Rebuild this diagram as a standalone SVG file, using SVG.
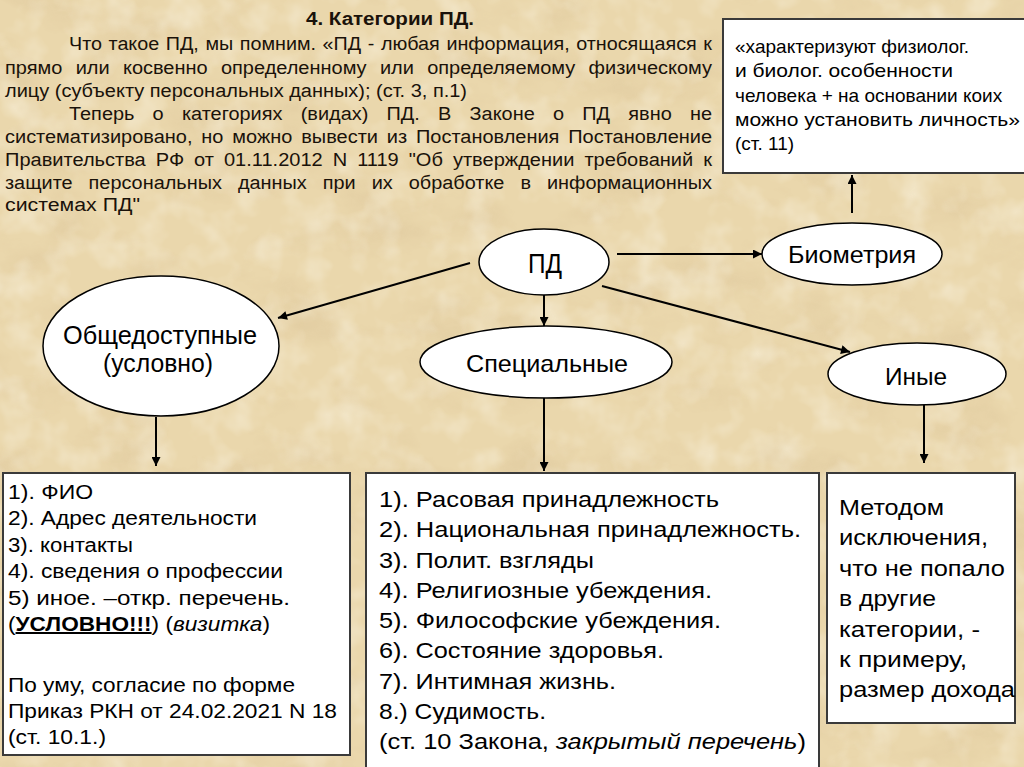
<svg xmlns="http://www.w3.org/2000/svg" width="1024" height="767" viewBox="0 0 1024 767">
<style>
.t{font-family:"Liberation Sans",Arial,sans-serif;fill:#000}
.p{font-family:"Liberation Sans",Arial,sans-serif;font-size:18px;fill:#1a120a}
.n{fill:#fff;stroke:#000;stroke-width:1.5}
.b{fill:#fff;stroke:#3a3a3a;stroke-width:2}
.c{stroke:#000;stroke-width:2;fill:none;marker-end:url(#ah)}
.lb{font-size:20px}
.mb{font-size:22px}
</style>
<defs>
<marker id="ah" viewBox="0 0 10 10" refX="10" refY="5" markerWidth="10" markerHeight="9" orient="auto" markerUnits="userSpaceOnUse">
<path d="M0,0 L10,5 L0,10 z" fill="#000"/>
</marker>
<filter id="paper" x="0" y="0" width="100%" height="100%">
<feTurbulence type="fractalNoise" baseFrequency="0.012 0.02" numOctaves="5" seed="7"/>
<feColorMatrix type="matrix" values="0 0 0 0 0.66  0 0 0 0 0.5  0 0 0 0 0.28  0 0 0 1.6 -0.78"/>
</filter>
<filter id="light" x="0" y="0" width="100%" height="100%">
<feTurbulence type="fractalNoise" baseFrequency="0.03" numOctaves="3" seed="21"/>
<feColorMatrix type="matrix" values="0 0 0 0 0.98  0 0 0 0 0.94  0 0 0 0 0.82  0 0 0 1.8 -0.8"/>
</filter>
</defs>
<rect x="0" y="0" width="1024" height="767" fill="#ead7ac"/>
<rect x="0" y="0" width="1024" height="767" filter="url(#paper)" opacity="0.5"/>
<rect x="0" y="0" width="1024" height="767" filter="url(#light)" opacity="0.55"/>

<g id="intro">
<text class="p" x="306" y="25" font-weight="bold" textLength="168" lengthAdjust="spacingAndGlyphs">4. Категории ПД.</text>
<text class="p" x="69" y="50" word-spacing="1" textLength="643" lengthAdjust="spacingAndGlyphs">Что такое ПД, мы помним. «ПД - любая информация, относящаяся к</text>
<text class="p" x="5" y="74" word-spacing="7" textLength="707" lengthAdjust="spacingAndGlyphs">прямо или косвенно определенному или определяемому физическому</text>
<text class="p" x="5" y="97" textLength="462" lengthAdjust="spacingAndGlyphs">лицу (субъекту персональных данных); (ст. 3, п.1)</text>
<text class="p" x="69" y="120" word-spacing="11.5" textLength="643" lengthAdjust="spacingAndGlyphs">Теперь о категориях (видах) ПД. В Законе о ПД явно не</text>
<text class="p" x="5" y="143" word-spacing="3" textLength="707" lengthAdjust="spacingAndGlyphs">систематизировано, но можно вывести из Постановления Постановление</text>
<text class="p" x="5" y="166" word-spacing="4" textLength="707" lengthAdjust="spacingAndGlyphs">Правительства РФ от 01.11.2012 N 1119 "Об утверждении требований к</text>
<text class="p" x="5" y="189" word-spacing="9.5" textLength="707" lengthAdjust="spacingAndGlyphs">защите персональных данных при их обработке в информационных</text>
<text class="p" x="5" y="211" textLength="135" lengthAdjust="spacingAndGlyphs">системах ПД"</text>
</g>

<g id="connectors">
<line class="c" x1="617" y1="254" x2="762" y2="254"/>
<line class="c" x1="470" y1="263" x2="278" y2="318"/>
<line class="c" x1="544" y1="295" x2="544" y2="326"/>
<line class="c" x1="602" y1="286" x2="850" y2="352"/>
<line class="c" x1="852" y1="213" x2="852" y2="175"/>
<line class="c" x1="156" y1="417" x2="156" y2="466"/>
<line class="c" x1="544" y1="398" x2="544" y2="471"/>
<line class="c" x1="924" y1="405" x2="924" y2="463"/>
</g>

<g id="biometry-note">
<rect class="b" x="723" y="19" width="320" height="154"/>
<text class="t" font-size="19" x="735" y="53" textLength="234" lengthAdjust="spacingAndGlyphs">«характеризуют физиолог.</text>
<text class="t" font-size="19" x="735" y="77" textLength="218" lengthAdjust="spacingAndGlyphs">и биолог. особенности</text>
<text class="t" font-size="19" x="735" y="102">человека + на основании коих</text>
<text class="t" font-size="19" x="735" y="126" textLength="285" lengthAdjust="spacingAndGlyphs">можно установить личность»</text>
<text class="t" font-size="19" x="735" y="150">(ст. 11)</text>
</g>

<g id="pd">
<ellipse class="n" cx="544" cy="262" rx="65" ry="33"/>
<text class="t" font-size="27" x="528" y="273" textLength="34" lengthAdjust="spacingAndGlyphs">ПД</text>
</g>

<g id="biometry">
<ellipse class="n" cx="852" cy="254" rx="90" ry="31"/>
<text class="t" font-size="23" x="788" y="263" textLength="128" lengthAdjust="spacingAndGlyphs">Биометрия</text>
</g>

<g id="public">
<ellipse class="n" cx="161" cy="346" rx="118" ry="70"/>
<text class="t" font-size="26" x="63" y="344" textLength="194" lengthAdjust="spacingAndGlyphs">Общедоступные</text>
<text class="t" font-size="26" x="103" y="372" textLength="110" lengthAdjust="spacingAndGlyphs">(условно)</text>
</g>

<g id="special">
<ellipse class="n" cx="546" cy="362" rx="126" ry="36"/>
<text class="t" font-size="24" x="466" y="372" textLength="162" lengthAdjust="spacingAndGlyphs">Специальные</text>
</g>

<g id="other">
<ellipse class="n" cx="917" cy="374" rx="89" ry="31"/>
<text class="t" font-size="24" x="885" y="385" textLength="62" lengthAdjust="spacingAndGlyphs">Иные</text>
</g>

<g id="public-list">
<rect class="b" x="3" y="473" width="347" height="282"/>
<text class="t lb" x="8" y="499" textLength="85" lengthAdjust="spacingAndGlyphs">1). ФИО</text>
<text class="t lb" x="8" y="525" textLength="249" lengthAdjust="spacingAndGlyphs">2). Адрес деятельности</text>
<text class="t lb" x="8" y="552" textLength="125" lengthAdjust="spacingAndGlyphs">3). контакты</text>
<text class="t lb" x="8" y="578" textLength="275" lengthAdjust="spacingAndGlyphs">4). сведения о профессии</text>
<text class="t lb" x="8" y="605" textLength="282" lengthAdjust="spacingAndGlyphs">5) иное. –откр. перечень.</text>
<text class="t lb" x="8" y="631" textLength="262" lengthAdjust="spacingAndGlyphs">(<tspan font-weight="bold" text-decoration="underline">УСЛОВНО!!!</tspan>) (<tspan font-style="italic">визитка</tspan>)</text>
<text class="t lb" x="8" y="692" textLength="287" lengthAdjust="spacingAndGlyphs">По уму, согласие по форме</text>
<text class="t lb" x="8" y="718" textLength="329" lengthAdjust="spacingAndGlyphs">Приказ РКН от 24.02.2021 N 18</text>
<text class="t lb" x="8" y="744" textLength="98" lengthAdjust="spacingAndGlyphs">(ст. 10.1.)</text>
</g>

<g id="special-list">
<rect class="b" x="366" y="473" width="453" height="310"/>
<text class="t mb" x="379" y="507" textLength="340" lengthAdjust="spacingAndGlyphs">1). Расовая принадлежность</text>
<text class="t mb" x="379" y="537" textLength="422" lengthAdjust="spacingAndGlyphs">2). Национальная принадлежность.</text>
<text class="t mb" x="379" y="568" textLength="215" lengthAdjust="spacingAndGlyphs">3). Полит. взгляды</text>
<text class="t mb" x="379" y="598" textLength="333" lengthAdjust="spacingAndGlyphs">4). Религиозные убеждения.</text>
<text class="t mb" x="379" y="628" textLength="342" lengthAdjust="spacingAndGlyphs">5). Философские убеждения.</text>
<text class="t mb" x="379" y="658" textLength="285" lengthAdjust="spacingAndGlyphs">6). Состояние здоровья.</text>
<text class="t mb" x="379" y="689" textLength="237" lengthAdjust="spacingAndGlyphs">7). Интимная жизнь.</text>
<text class="t mb" x="379" y="719" textLength="167" lengthAdjust="spacingAndGlyphs">8.) Судимость.</text>
<text class="t mb" x="379" y="749" textLength="427" lengthAdjust="spacingAndGlyphs">(ст. 10 Закона, <tspan font-style="italic">закрытый перечень</tspan>)</text>
</g>

<g id="other-list">
<rect class="b" x="827" y="473" width="188" height="250"/>
<text class="t mb" x="839" y="515" textLength="105" lengthAdjust="spacingAndGlyphs">Методом</text>
<text class="t mb" x="839" y="545" textLength="149" lengthAdjust="spacingAndGlyphs">исключения,</text>
<text class="t mb" x="839" y="576" textLength="166" lengthAdjust="spacingAndGlyphs">что не попало</text>
<text class="t mb" x="839" y="606" textLength="97" lengthAdjust="spacingAndGlyphs">в другие</text>
<text class="t mb" x="839" y="637" textLength="141" lengthAdjust="spacingAndGlyphs">категории, -</text>
<text class="t mb" x="839" y="667" textLength="128" lengthAdjust="spacingAndGlyphs">к примеру,</text>
<text class="t mb" x="839" y="697" textLength="176" lengthAdjust="spacingAndGlyphs">размер дохода</text>
</g>
</svg>
